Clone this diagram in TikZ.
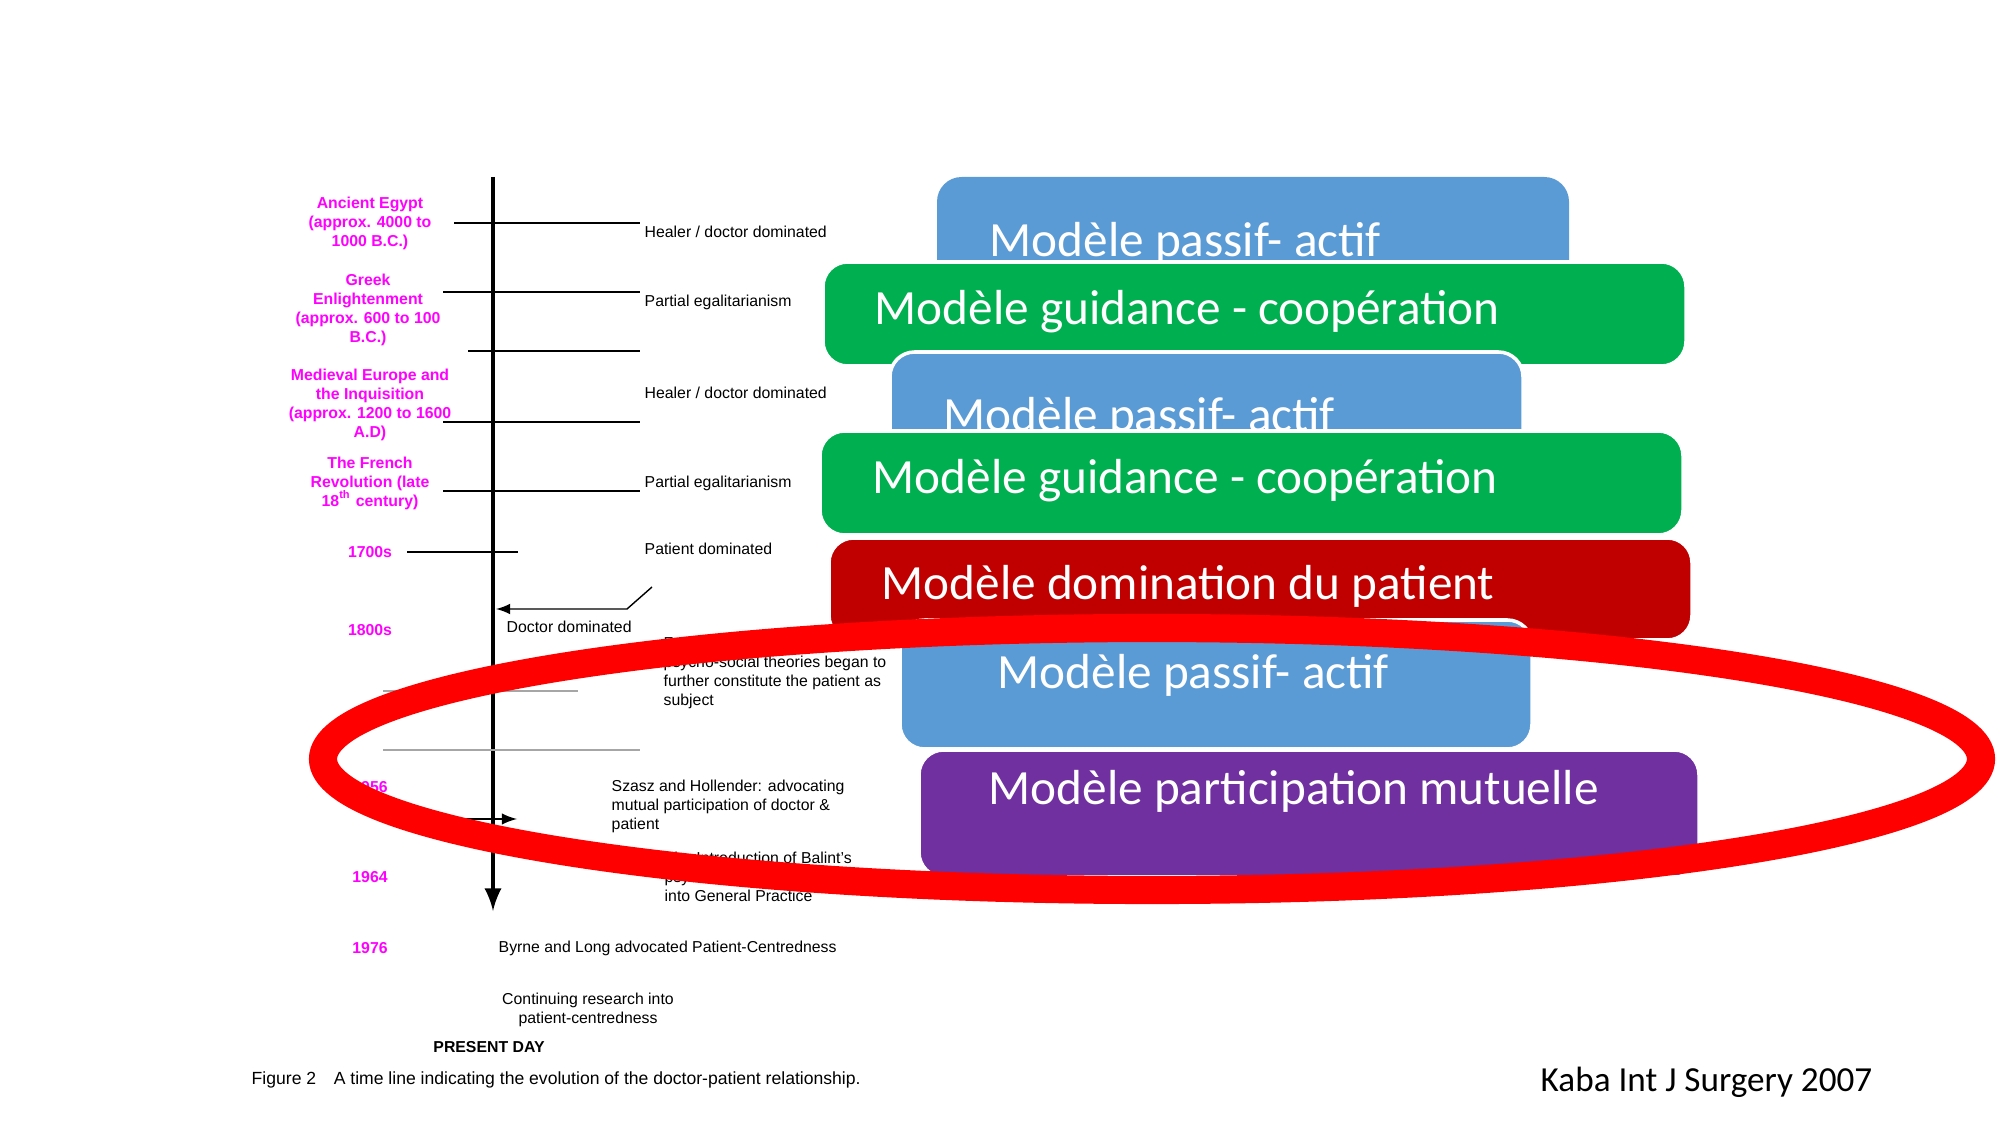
\documentclass[tikz,border=0pt]{standalone}
\usepackage{fontspec}
\setmainfont{Liberation Sans}
\newfontfamily\calfont{Carlito}
\definecolor{mblue}{HTML}{5B9BD5}
\definecolor{mgreen}{HTML}{00B050}
\definecolor{mred}{HTML}{C00000}
\definecolor{mpurple}{HTML}{7030A0}
\definecolor{pinkc}{HTML}{FF00FF}
\begin{document}
\begin{tikzpicture}[x=0.01cm,y=-0.01cm,
  pk/.style={text=pinkc,font=\fontsize{4.5}{5.4}\selectfont\bfseries,align=center},
  tx/.style={font=\fontsize{4.5}{5.4}\selectfont,anchor=west,align=left,inner sep=0},
  tk/.style={line width=0.5pt},
  gr/.style={line width=0.6pt,gray!70},
  box/.style={draw=white,line width=1pt,rounded corners=7pt},
  bt/.style={text=white,font=\calfont\fontsize{14}{16}\selectfont,anchor=west,inner sep=0}]
\useasboundingbox (0,0) rectangle (2000,1125);
% timeline
\coordinate (top) at (493,177); \coordinate (bot) at (493,911);
\draw[line width=1.2pt,-latex] (top) -- (bot);
\foreach \y/\a in {223/454,292/443,351/468,422/443,491/443}{\draw[tk] (\a,\y) -- (640,\y);}
\draw[tk] (407,552) -- (518,552);
\coordinate (d1) at (652,587); \coordinate (d2) at (627,609); \coordinate (d3) at (496,609);
\draw[line width=0.4pt,-latex] (d1) -- (d2) -- (d3);
\draw[gr] (383,691) -- (578,691);
\draw[gr] (383,750) -- (640,750);
\coordinate (a1) at (448,819); \coordinate (a2) at (517,819);
\draw[line width=0.5pt,-latex] (a1) -- (a2);
% pink labels
\node[pk] (p1) at (370,223) {Ancient Egypt\\(approx. 4000 to\\1000 B.C.)};
\node[pk] (p2) at (368,310) {Greek\\Enlightenment\\(approx. 600 to 100\\B.C.)};
\node[pk] (p3) at (370,405) {Medieval Europe and\\the Inquisition\\(approx. 1200 to 1600\\A.D)};
\node[pk] (p4) at (370,483) {The French\\Revolution (late\\18\textsuperscript{th} century)};
\node[pk] (p5) at (370,552) {1700s};
\node[pk] (p6) at (370,630) {1800s};
\node[pk] (p7) at (370,787) {1956};
\node[pk] (p8) at (370,877) {1964};
\node[pk] (p9) at (370,948) {1976};
% black texts
\node[tx] (t1) at (644,232) {Healer / doctor dominated};
\node[tx] (t2) at (644,302) {Partial egalitarianism};
\node[tx] (t3) at (644,393) {Healer / doctor dominated};
\node[tx] (t4) at (644,483) {Partial egalitarianism};
\node[tx] (t5) at (644,549) {Patient dominated};
\node[tx] (t6) at (506,627) {Doctor dominated};
\node[tx,anchor=north west] (t7) at (663,636) {Freud's psychoanalytic and\\psycho-social theories began to\\further constitute the patient as\\subject};
\node[tx,anchor=north west] (t8) at (611,779) {Szasz and Hollender: advocating\\mutual participation of doctor \&\\patient};
\node[tx,anchor=north west] (t9) at (664,851) {The Introduction of Balint's\\psychological medicine\\into General Practice};
\node[tx] (t10) at (498,948) {Byrne and Long advocated Patient-Centredness};
\node[tx,anchor=center,align=center] (t11) at (588,1010) {Continuing research into\\patient-centredness};
\node[tx,anchor=center,font=\fontsize{4.5}{5.4}\selectfont\bfseries] (t12) at (489,1047) {PRESENT DAY};
\node[tx,font=\fontsize{5}{6}\selectfont] (cap) at (251,1080) {Figure 2\quad A time line indicating the evolution of the doctor-patient relationship.};
% boxes
\begin{scope}
\clip (937,177) rectangle (1569,264);
\fill[mblue,rounded corners=7pt] (937,177) rectangle (1569,320);
\end{scope}
\node[bt] (b1) at (989,243) {Modèle passif- actif};
\filldraw[box,fill=mgreen] (823,262) rectangle (1686,366);
\node[bt] (b2) at (874,312) {Modèle guidance - coopération};
\begin{scope}
\clip (885,350) rectangle (1530,433);
\filldraw[box,fill=mblue] (890,352) rectangle (1523,470);
\node[bt] (b3) at (943,418) {Modèle passif- actif};
\end{scope}
\filldraw[box,fill=mgreen] (820,431) rectangle (1683,535);
\node[bt] (b4) at (872,481) {Modèle guidance - coopération};
\filldraw[box,fill=mred] (829,538) rectangle (1692,640);
\node[bt] (b5) at (881,586) {Modèle domination du patient};
\filldraw[box,fill=mblue] (900,620) rectangle (1532,749);
\node[bt] (b6) at (997,675) {Modèle passif- actif};
\filldraw[box,fill=mpurple] (919,750) rectangle (1699,877);
\node[bt] (b7) at (988,791) {Modèle participation mutuelle};
% ellipse
\draw[red,line width=8pt] (1152,759) ellipse [x radius=829,y radius=131];
\node[font=\calfont\fontsize{10}{12}\selectfont,anchor=west,inner sep=0] (kaba) at (1540,1082) {Kaba Int J Surgery 2007};
\end{tikzpicture}
\end{document}
